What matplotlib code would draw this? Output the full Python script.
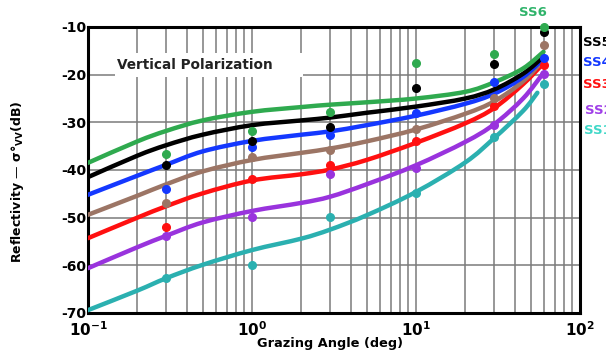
import numpy as np
import matplotlib.pyplot as plt
from matplotlib.patches import Rectangle, PathPatch
from matplotlib.path import Path

plt.rcParams['font.family'] = ['DejaVu Sans']
plt.rcParams['font.weight'] = 'bold'

# Measured reflectivity (dots) at fixed grazing angles
meas_angle = [0.3, 1, 3, 10, 30, 60]
meas_ss1 = [-62.7, -59.9, -49.8, -44.9, -33.0, -22.0]
meas_ss2 = [-53.8, -49.8, -40.9, -39.6, -30.6, -19.9]
meas_ss3 = [-51.9, -41.9, -38.9, -34.0, -26.6, -18.0]
meas_ss4 = [-44.0, -35.1, -32.7, -28.1, -21.5, -16.5]
meas_ss5 = [-39.0, -33.9, -30.9, -22.9, -17.8, -11.0]
meas_ss6 = [-36.7, -31.8, -27.8, -17.6, -15.7, -9.9]
meas_brown = [-47.0, -37.2, -35.8, -31.3, -25.0, -13.8]

# Model curves
curve_angle = [0.1, 0.2, 0.3, 0.5, 1, 2, 3, 5, 10, 20, 30, 45, 60]
curve_angle_ss1 = [0.1, 0.2, 0.3, 0.5, 1, 2, 3, 5, 10, 20, 30, 45, 55]
curve_ss1 = [-69.4, -65.3, -62.7, -59.9, -56.8, -54.4, -52.5, -49.5, -44.6, -38.4, -33.3, -27.6, -23.8]
curve_ss2 = [-60.6, -56.2, -53.8, -51.0, -48.6, -46.9, -45.6, -43.0, -39.0, -34.1, -30.4, -25.0, -19.6]
curve_ss3 = [-54.3, -50.0, -47.6, -44.9, -42.2, -40.9, -39.9, -37.9, -34.3, -30.2, -27.0, -22.0, -17.6]
curve_ss4 = [-45.2, -41.2, -38.9, -36.1, -33.9, -32.6, -31.9, -30.6, -28.6, -26.1, -24.0, -20.5, -16.6]
curve_ss5 = [-41.5, -37.0, -34.8, -32.6, -30.6, -29.6, -29.0, -28.0, -26.7, -25.0, -23.1, -19.8, -16.2]
curve_ss6 = [-38.5, -34.0, -31.8, -29.6, -27.8, -26.8, -26.3, -25.8, -25.0, -23.6, -21.6, -18.7, -15.2]
curve_brown = [-49.4, -45.4, -43.0, -40.3, -37.9, -36.4, -35.5, -34.0, -31.5, -28.2, -25.6, -21.4, -16.9]

series = [
    (curve_angle_ss1, curve_ss1, meas_ss1, '#2bb0b0'),
    (curve_angle, curve_ss2, meas_ss2, '#9933dd'),
    (curve_angle, curve_ss3, meas_ss3, '#ff1010'),
    (curve_angle, curve_brown, meas_brown, '#9c7565'),
    (curve_angle, curve_ss4, meas_ss4, '#1438ff'),
    (curve_angle, curve_ss5, meas_ss5, '#000000'),
    (curve_angle, curve_ss6, meas_ss6, '#2faa4f'),
]


def smooth_path(xs, ys):
    # Catmull-Rom through the points, built in log10(x) so it bends like the axis
    pts = np.column_stack([np.log10(xs), ys])
    verts = [pts[0]]
    codes = [Path.MOVETO]
    n = len(pts)
    for i in range(n - 1):
        p0 = pts[max(i - 1, 0)]
        p1, p2 = pts[i], pts[i + 1]
        p3 = pts[min(i + 2, n - 1)]
        verts += [p1 + (p2 - p0) / 6, p2 - (p3 - p1) / 6, p2]
        codes += [Path.CURVE4] * 3
    verts = np.array(verts)
    verts[:, 0] = 10 ** verts[:, 0]
    return Path(verts, codes)


fig = plt.figure(figsize=(6.06, 3.56), dpi=100)
ax = fig.add_axes([0.1452, 0.1208, 0.8118, 0.8034])
ax.set_xscale('log')
ax.set_xlim(0.1, 100)
ax.set_ylim(-70, -10)

for xs, curve, meas, color in series:
    ax.add_patch(PathPatch(smooth_path(xs, curve), fill=False, edgecolor=color,
                           lw=3.2, capstyle='round', zorder=3))
for xs, curve, meas, color in series:
    ax.plot(meas_angle, meas, 'o', color=color, ms=5.5, zorder=5, clip_on=False)

ax.set_yticks([-70, -60, -50, -40, -30, -20, -10])
ax.set_yticklabels(['-70', '-60', '-50', '-40', '-30', '-20', '-10'], fontsize=10, fontweight='bold')
ax.set_xticks([0.1, 1, 10, 100])
ax.set_xticklabels([r'$\mathbf{10^{-1}}$', r'$\mathbf{10^{0}}$', r'$\mathbf{10^{1}}$', r'$\mathbf{10^{2}}$'],
                   fontsize=11)
ax.tick_params(axis='y', length=0, pad=1)
ax.tick_params(axis='x', length=0, pad=5)
ax.tick_params(axis='x', which='minor', length=0)

ax.grid(True, which='major', color='#7a7a7a', lw=1.1, zorder=1)
ax.grid(True, which='minor', axis='x', color='#7a7a7a', lw=1.1, zorder=1)
ax.set_axisbelow(True)
for sp in ax.spines.values():
    sp.set_linewidth(2.2)

ax.add_patch(Rectangle((0.055, 0.825), 0.382, 0.084, transform=ax.transAxes,
                       facecolor='white', edgecolor='none', zorder=2))
ax.text(0.058, 0.867, 'Vertical Polarization', transform=ax.transAxes,
        fontsize=9.8, fontweight='bold', color='#222222', va='center', ha='left', zorder=2.5)

ax.set_xlabel('Grazing Angle (deg)', fontsize=9.3, fontweight='bold')
ax.xaxis.set_label_coords(0.492, -0.085)
ax.set_ylabel(r'Reflectivity — σ°$_{\mathbf{VV}}$(dB)', fontsize=9, fontweight='bold')
ax.yaxis.set_label_coords(-0.125, 0.46)

labels = [('SS6', '#2fb36a', 533, 13, 'center'),
          ('SS5', '#000000', 583, 42, 'left'),
          ('SS4', '#1438ff', 583, 62, 'left'),
          ('SS3', '#ff1010', 583, 85, 'left'),
          ('SS2', '#a040e8', 585, 110, 'left'),
          ('SS1', '#40d8c8', 584, 130, 'left')]
for txt, col, px, py, ha in labels:
    fig.text(px / 606, 1 - py / 356, txt, color=col, fontsize=9.5, fontweight='bold', ha=ha, va='center')

fig.savefig('out.png', dpi=100)
